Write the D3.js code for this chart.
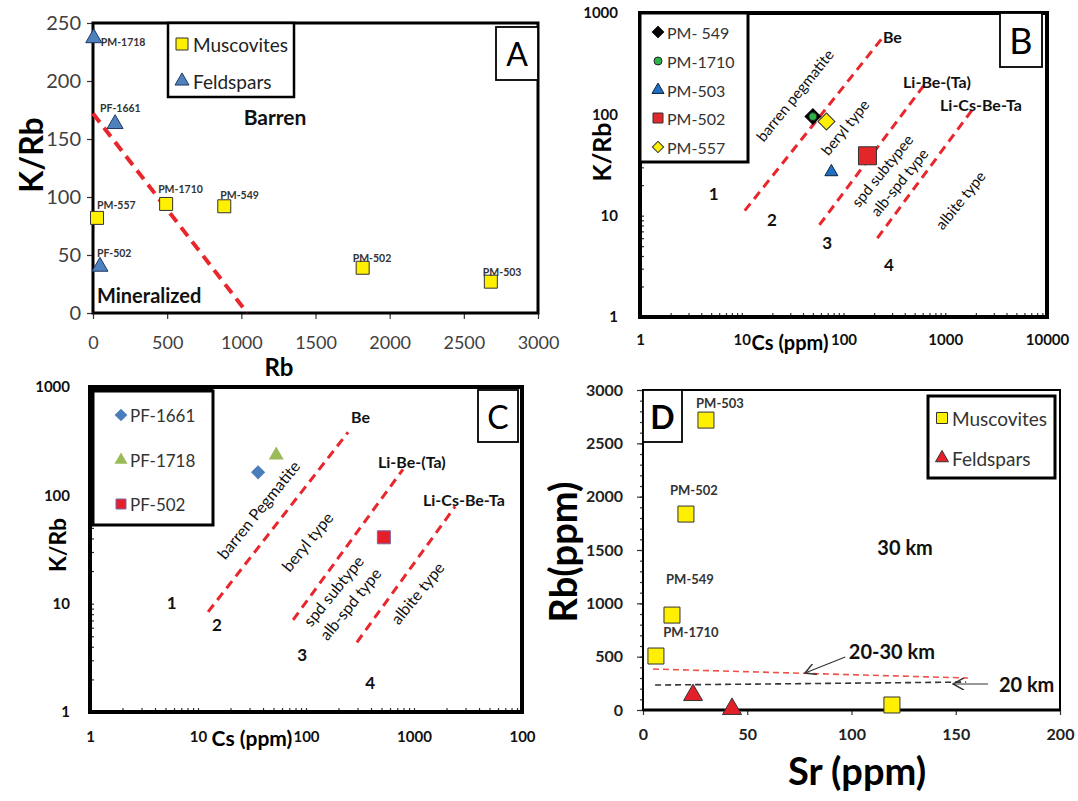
<!DOCTYPE html>
<html><head><meta charset="utf-8">
<script src="https://cdn.jsdelivr.net/npm/d3@7"></script>
<style>body{margin:0;background:#fff}svg{display:block}text{font-family:Lato,"Open Sans",sans-serif}</style>
</head><body><svg id="c" width="1078" height="801"></svg>
<script>
// ---------------- Panel A data ----------------
const aMuscLabels = ["PM-557","PM-1710","PM-549","PM-502","PM-503"];
const aMuscRb     = [27, 493, 885, 1818, 2682];
const aMuscKRb    = [82, 94, 92, 39, 27];
const aFeldLabels = ["PM-1718","PF-1661","PF-502"];
const aFeldRb     = [5, 149, 47];
const aFeldKRb    = [237, 163, 40];
const aLineRb     = [0, 1040];
const aLineKRb    = [172, 0];
const aXTicks     = [0,500,1000,1500,2000,2500,3000];
const aYTicks     = [0,50,100,150,200,250];
const aLegend     = ["Muscovites","Feldspars"];

// ---------------- Panel B data ----------------
const bSamples = ["PM- 549","PM-1710","PM-503","PM-502","PM-557"];
const bCs      = [50, 50, 76, 172, 68];
const bKRb     = [95, 95, 27, 39, 85];
const bLineCsStart  = [10.7, 58, 215];
const bLineKRbStart = [11.2, 8.1, 6.0];
const bLineCsEnd    = [235, 650, 1830];
const bLineKRbEnd   = [550, 207, 110];
const bLineNames    = ["Be","Li-Be-(Ta)","Li-Cs-Be-Ta"];
const bLineNameCs   = [244, 385, 888];
const bLineNameKRb  = [580, 213, 126];
const bZoneNames    = ["barren pegmatite","beryl type","spd subtypee","alb-spd type","albite type"];
const bZoneCs       = [33, 103, 239, 351, 1396];
const bZoneKRb      = [155, 75, 28, 21.5, 14.3];
const bNums         = ["1","2","3","4"];
const bNumCs        = [5.3, 19.8, 69, 280];
const bNumKRb       = [16.7, 9.1, 5.4, 3.3];
const bXTicks = [1,10,100,1000,10000];
const bXLabels = ["1","10","100","1000","10000"];
const bYTicks = [1,10,100,1000];
const bYLabels = ["1","10","100","1000"];

// ---------------- Panel C data ----------------
const cSamples = ["PF-1661","PF-1718","PF-502"];
const cCs      = [36, 53, 526];
const cKRb     = [163, 235, 41];
const cLineCsStart  = [12.4, 76, 296];
const cLineKRbStart = [8.4, 7.1, 4.4];
const cLineCsEnd    = [245, 791, 2407];
const cLineKRbEnd   = [382, 174, 79];
const cLineNames    = ["Be","Li-Be-(Ta)","Li-Cs-Be-Ta"];
const cLineNameCs   = [261, 464, 1211];
const cLineNameKRb  = [539, 206, 92];
const cZoneNames    = ["barren Pegmatite","beryl type","spd subtype","alb-spd type","albite type"];
const cZoneCs       = [36, 102, 178, 255, 1066];
const cZoneKRb      = [74, 37.5, 13.2, 10, 12.6];
const cNums         = ["1","2","3","4"];
const cNumCs        = [5.7, 15, 92, 392];
const cNumKRb       = [10.2, 6.4, 3.4, 1.86];
const cXTicks = [1,10,100,1000,10000];
const cXLabels = ["1","10","100","1000","100"];
const cYTicks = [1,10,100,1000];
const cYLabels = ["1","10","100","1000"];

// ---------------- Panel D data ----------------
const dMuscLabels = ["PM-503","PM-502","PM-549","PM-1710",""];
const dMuscSr     = [30.2, 20.6, 13.9, 6.2, 119.4];
const dMuscRb     = [2718, 1837, 890, 506, 47];
const dFeldSr     = [24, 42.7];
const dFeldRb     = [140, 10];
const dRedLineSr  = [4.8, 155.8];
const dRedLineRb  = [384, 300];
const dBlkLineSr  = [5.8, 155];
const dBlkLineRb  = [234, 262];
const dNotes      = ["30 km","20-30 km","20 km"];
const dNoteSr     = [125.7, 119.4, 184];
const dNoteRb     = [1528, 553, 244];
const dArrowFromSr = [97, 165.5];
const dArrowFromRb = [497, 244];
const dArrowToSr   = [77.7, 148.7];
const dArrowToRb   = [347, 244];
const dXTicks = [0,50,100,150,200];
const dYTicks = [0,500,1000,1500,2000,2500,3000];
const dLegend = ["Muscovites","Feldspars"];

// ================= drawing =================
const svg = d3.select("#c");
const sq = s => d3.symbol().type(d3.symbolSquare).size(s*s)();
const tri = s => d3.symbol().type(d3.symbolTriangle).size(Math.sqrt(3)/4*s*s)();
const circ = s => d3.symbol().type(d3.symbolCircle).size(Math.PI*s*s/4)();
const RED = "#e8262b";

function logTicks(lo, hi){
  const out=[];
  for(let p=Math.log10(lo); p<Math.log10(hi); p++){
    for(let m=1;m<10;m++) out.push(m*Math.pow(10,p));
  }
  out.push(hi);
  return out;
}
function styleAxis(g, size, weight, fill){
  g.select(".domain").remove();
  g.selectAll("text").attr("font-size",size).attr("font-weight",weight).attr("fill",fill).attr("font-family","Lato, 'Open Sans', sans-serif");
  g.selectAll("line").attr("stroke","#333").attr("stroke-width",1.2);
}
function frame(g,x0,y0,x1,y1,w){
  g.append("rect").attr("x",x0).attr("y",y0).attr("width",x1-x0).attr("height",y1-y0)
   .attr("fill","none").attr("stroke","#000").attr("stroke-width",w);
}
function boxLabel(g,x0,y0,x1,y1,txt,size,weight){
  g.append("rect").attr("x",x0).attr("y",y0).attr("width",x1-x0).attr("height",y1-y0)
   .attr("fill","#fff").attr("stroke","#000").attr("stroke-width",1.8);
  g.append("text").attr("x",(x0+x1)/2).attr("y",(y0+y1)/2).attr("text-anchor","middle")
   .attr("dominant-baseline","central").attr("font-size",size).attr("font-weight",weight).text(txt);
}

// ---------- Panel A ----------
{
  const g = svg.append("g");
  const x = d3.scaleLinear().domain([0,3000]).range([93,538]);
  const y = d3.scaleLinear().domain([0,250]).range([313,23]);
  g.append("g").attr("transform",`translate(0,${y(0)})`)
    .call(d3.axisBottom(x).tickValues(aXTicks).tickSize(6).tickPadding(17).tickFormat(d3.format("d")))
    .call(a=>styleAxis(a,18,400,"#404040"));
  g.append("g").attr("transform",`translate(${x(0)},0)`)
    .call(d3.axisLeft(y).tickValues(aYTicks).tickSize(6).tickPadding(6).tickFormat(d3.format("d")))
    .call(a=>styleAxis(a,20,400,"#404040"));
  frame(g, x(0), y(250), x(3000), y(0), 3);
  g.append("line").attr("x1",x(aLineRb[0])).attr("y1",y(aLineKRb[0]))
    .attr("x2",x(aLineRb[1])).attr("y2",y(aLineKRb[1]))
    .attr("stroke",RED).attr("stroke-width",4).attr("stroke-dasharray","11,7");
  g.append("rect").attr("x",168).attr("y",23).attr("width",126).attr("height",74)
    .attr("fill","#fff").attr("stroke","#000").attr("stroke-width",2.5);
  g.append("path").attr("d",sq(12)).attr("transform","translate(182,44)").attr("fill","#ffef00").attr("stroke","#333");
  g.append("path").attr("d",tri(14)).attr("transform","translate(182,81)").attr("fill","#4f81bd").attr("stroke","#1f3864");
  g.append("text").attr("x",193).attr("y",44).attr("dominant-baseline","central").attr("font-size",19).attr("fill","#222").text(aLegend[0]);
  g.append("text").attr("x",193).attr("y",81).attr("dominant-baseline","central").attr("font-size",19).attr("fill","#222").text(aLegend[1]);
  boxLabel(g,496,27,538,80,"A",32,400);
  g.append("text").attr("x",275).attr("y",116).attr("text-anchor","middle").attr("dominant-baseline","central")
    .attr("font-size",21).attr("font-weight",700).attr("fill","#111").text("Barren");
  g.append("text").attr("x",97).attr("y",295).attr("dominant-baseline","central")
    .attr("font-size",20).attr("font-weight",700).attr("fill","#111").text("Mineralized");
  const mOff = [[0,-13],[-8,-15],[-4,-11],[-10,-10],[-8,-10]];
  aMuscRb.forEach((v,i)=>{
    g.append("path").attr("d",sq(13)).attr("transform",`translate(${x(v)},${y(aMuscKRb[i])})`)
      .attr("fill","#ffef00").attr("stroke","#333").attr("stroke-width",1);
    g.append("text").attr("x",x(v)+mOff[i][0]).attr("y",y(aMuscKRb[i])+mOff[i][1]).attr("dominant-baseline","central")
      .attr("font-size",10.5).attr("font-weight",700).attr("fill","#333").text(aMuscLabels[i]);
  });
  const fOff = [[7,4],[-15,-16],[-3,-14]];
  aFeldRb.forEach((v,i)=>{
    g.append("path").attr("d",tri(16)).attr("transform",`translate(${x(v)},${y(aFeldKRb[i])})`)
      .attr("fill","#4f81bd").attr("stroke","#1f3864").attr("stroke-width",1);
    g.append("text").attr("x",x(v)+fOff[i][0]).attr("y",y(aFeldKRb[i])+fOff[i][1]).attr("dominant-baseline","central")
      .attr("font-size",10.5).attr("font-weight",700).attr("fill","#333").text(aFeldLabels[i]);
  });
  g.append("text").attr("transform","translate(30,155) rotate(-90)").attr("text-anchor","middle").attr("dominant-baseline","central")
    .attr("font-size",32).attr("font-weight",700).text("K/Rb");
  g.append("text").attr("x",279).attr("y",366).attr("text-anchor","middle").attr("dominant-baseline","central")
    .attr("font-size",24).attr("font-weight",700).text("Rb");
}

// ---------- log panels B and C ----------
function logPanel(cfg){
  const g = svg.append("g");
  const x = d3.scaleLog().domain([1,10000]).range([cfg.x0,cfg.x1]);
  const y = d3.scaleLog().domain([1,1000]).range([cfg.y1,cfg.y0]);
  const xm = logTicks(1,10000).filter(d=>d>1&&d<10000);
  const ym = logTicks(1,1000).filter(d=>d>1&&d<1000);
  g.append("g").attr("transform",`translate(0,${cfg.y1})`)
    .call(d3.axisBottom(x).tickValues(xm).tickSize(-4).tickFormat(""))
    .call(a=>styleAxis(a,15,700,"#111"));
  g.append("g").attr("transform",`translate(${cfg.x0},0)`)
    .call(d3.axisLeft(y).tickValues(ym).tickSize(-4).tickFormat(""))
    .call(a=>styleAxis(a,15,700,"#111"));
  g.append("g").attr("transform",`translate(0,${cfg.y1})`)
    .call(d3.axisBottom(x).tickValues(cfg.xTicks).tickSize(0).tickPadding(cfg.xPad).tickFormat((d,i)=>cfg.xLabels[i]))
    .call(a=>styleAxis(a,15,700,"#111"));
  g.append("g").attr("transform",`translate(${cfg.x0},0)`)
    .call(d3.axisLeft(y).tickValues(cfg.yTicks).tickSize(0).tickPadding(cfg.yPad).tickFormat((d,i)=>cfg.yLabels[i]))
    .call(a=>styleAxis(a,15,700,"#111"));
  frame(g,cfg.x0,cfg.y0,cfg.x1,cfg.y1,4);
  cfg.ls.forEach((v,i)=>{
    g.append("line").attr("x1",x(v)).attr("y1",y(cfg.lks[i])).attr("x2",x(cfg.le[i])).attr("y2",y(cfg.lke[i]))
      .attr("stroke",RED).attr("stroke-width",3).attr("stroke-dasharray","9,6");
    g.append("text").attr("x",x(cfg.nCs[i])).attr("y",y(cfg.nK[i])).attr("dominant-baseline","central")
      .attr("font-size",16).attr("font-weight",700).attr("fill","#111").text(cfg.names[i]);
  });
  cfg.zones.forEach((t,i)=>{
    g.append("text").attr("transform",`translate(${x(cfg.zCs[i])},${y(cfg.zK[i])}) rotate(-51)`)
      .attr("text-anchor","middle").attr("dominant-baseline","central")
      .attr("font-size",cfg.zSize).attr("fill","#111").text(t);
  });
  cfg.nums.forEach((t,i)=>{
    g.append("text").attr("x",x(cfg.numCs[i])).attr("y",y(cfg.numK[i])).attr("text-anchor","middle").attr("dominant-baseline","central")
      .attr("font-size",17).attr("font-weight",700).attr("fill","#111").text(t);
  });
  g.append("text").attr("transform",`translate(${cfg.ytX},${cfg.ytY}) rotate(-90)`).attr("text-anchor","middle").attr("dominant-baseline","central")
    .attr("font-size",cfg.ytSize).attr("font-weight",700).text("K/Rb");
  g.append("text").attr("x",cfg.xtX).attr("y",cfg.xtY).attr("text-anchor","middle").attr("dominant-baseline","central")
    .attr("font-size",cfg.xtSize).attr("font-weight",700).text("Cs (ppm)");
  return {g,x,y};
}

// ---------- Panel B ----------
{
  const {g,x,y} = logPanel({x0:640,x1:1047,y0:13,y1:317,xTicks:bXTicks,xLabels:bXLabels,yTicks:bYTicks,yLabels:bYLabels,
    xPad:17,yPad:22,ls:bLineCsStart,lks:bLineKRbStart,le:bLineCsEnd,lke:bLineKRbEnd,names:bLineNames,nCs:bLineNameCs,nK:bLineNameKRb,
    zones:bZoneNames,zCs:bZoneCs,zK:bZoneKRb,zSize:15,nums:bNums,numCs:bNumCs,numK:bNumKRb,
    ytX:601,ytY:152,ytSize:25,xtX:790,xtY:342,xtSize:20});
  g.append("rect").attr("x",640).attr("y",13).attr("width",108).attr("height",149).attr("fill","#fff").attr("stroke","#000").attr("stroke-width",3);
  const ly=[32,61,90,118,147];
  const legSym=[
    p=>p.attr("d",sq(8)).attr("transform",`translate(658,${ly[0]}) rotate(45)`).attr("fill","#000").attr("stroke","#000"),
    p=>p.attr("d",circ(8)).attr("transform",`translate(658,${ly[1]})`).attr("fill","#2db34a").attr("stroke","#222"),
    p=>p.attr("d",tri(12)).attr("transform",`translate(658,${ly[2]})`).attr("fill","#1f6fc5").attr("stroke","#123"),
    p=>p.attr("d",sq(10)).attr("transform",`translate(658,${ly[3]})`).attr("fill","#e3262a").attr("stroke","#333"),
    p=>p.attr("d",sq(8)).attr("transform",`translate(658,${ly[4]}) rotate(45)`).attr("fill","#ffef00").attr("stroke","#333")];
  bSamples.forEach((s,i)=>{
    legSym[i](g.append("path"));
    g.append("text").attr("x",667).attr("y",ly[i]).attr("dominant-baseline","central").attr("font-size",16).attr("fill","#333").text(s);
  });
  boxLabel(g,1000,13,1042,67,"B",36,400);
  const pt = (i)=>`translate(${x(bCs[i])},${y(bKRb[i])})`;
  g.append("path").attr("d",sq(11)).attr("transform",pt(0)+" rotate(45)").attr("fill","#000").attr("stroke","#000");
  g.append("path").attr("d",circ(8)).attr("transform",pt(1)).attr("fill","#2db34a").attr("stroke","#222");
  g.append("path").attr("d",tri(13)).attr("transform",pt(2)).attr("fill","#1f6fc5").attr("stroke","#123");
  g.append("path").attr("d",sq(18)).attr("transform",pt(3)).attr("fill","#e3262a").attr("stroke","#333");
  g.append("path").attr("d",sq(12)).attr("transform",pt(4)+" rotate(45)").attr("fill","#ffef00").attr("stroke","#333");
}

// ---------- Panel C ----------
{
  const {g,x,y} = logPanel({x0:90,x1:522,y0:387,y1:712,xTicks:cXTicks,xLabels:cXLabels,yTicks:cYTicks,yLabels:cYLabels,
    xPad:19,yPad:20,ls:cLineCsStart,lks:cLineKRbStart,le:cLineCsEnd,lke:cLineKRbEnd,names:cLineNames,nCs:cLineNameCs,nK:cLineNameKRb,
    zones:cZoneNames,zCs:cZoneCs,zK:cZoneKRb,zSize:16,nums:cNums,numCs:cNumCs,numK:cNumKRb,
    ytX:57,ytY:545,ytSize:23,xtX:252,xtY:737,xtSize:21});
  g.append("rect").attr("x",93).attr("y",391).attr("width",120).attr("height",134).attr("fill","#fff").attr("stroke","#000").attr("stroke-width",3);
  g.append("line").attr("x1",90).attr("x2",213).attr("y1",389).attr("y2",389).attr("stroke","#000").attr("stroke-width",5);
  const ly=[415,460,504];
  const leg=[
    p=>p.attr("d",sq(9)).attr("transform",`translate(121,${ly[0]}) rotate(45)`).attr("fill","#4a7ebb"),
    p=>p.attr("d",tri(13)).attr("transform",`translate(121,${ly[1]})`).attr("fill","#9bbb59"),
    p=>p.attr("d",sq(10)).attr("transform",`translate(121,${ly[2]})`).attr("fill","#e3202a").attr("stroke","#8064a2")];
  cSamples.forEach((s,i)=>{
    leg[i](g.append("path"));
    g.append("text").attr("x",130).attr("y",ly[i]).attr("dominant-baseline","central").attr("font-size",17).attr("fill","#333").text(s);
  });
  boxLabel(g,478,390,518,442,"C",32,400);
  g.append("path").attr("d",sq(10)).attr("transform",`translate(${x(cCs[0])},${y(cKRb[0])}) rotate(45)`).attr("fill","#4a7ebb");
  g.append("path").attr("d",tri(15)).attr("transform",`translate(${x(cCs[1])},${y(cKRb[1])})`).attr("fill","#9bbb59");
  g.append("path").attr("d",sq(13)).attr("transform",`translate(${x(cCs[2])},${y(cKRb[2])})`).attr("fill","#e3202a").attr("stroke","#8064a2");
}

// ---------- Panel D ----------
{
  const g = svg.append("g");
  const x = d3.scaleLinear().domain([0,200]).range([643,1060]);
  const y = d3.scaleLinear().domain([0,3000]).range([710,390]);
  g.append("g").attr("transform",`translate(0,${y(0)})`)
    .call(d3.axisBottom(x).tickValues(dXTicks).tickSize(5).tickPadding(14).tickFormat(d3.format("d")))
    .call(a=>styleAxis(a,16,700,"#222"));
  g.append("g").attr("transform",`translate(${x(0)},0)`)
    .call(d3.axisLeft(y).tickValues(d3.range(0,3001,100)).tickSize(3).tickFormat(""))
    .call(a=>styleAxis(a,16,700,"#222"));
  g.append("g").attr("transform",`translate(${x(0)},0)`)
    .call(d3.axisLeft(y).tickValues(dYTicks).tickSize(6).tickPadding(14).tickFormat(d3.format("d")))
    .call(a=>styleAxis(a,16,700,"#222"));
  frame(g,x(0),y(3000),x(200),y(0),2);
  g.append("line").attr("x1",x(0)).attr("x2",x(200)).attr("y1",y(0)).attr("y2",y(0)).attr("stroke","#000").attr("stroke-width",3);
  g.append("line").attr("x1",x(dRedLineSr[0])).attr("y1",y(dRedLineRb[0])).attr("x2",x(dRedLineSr[1])).attr("y2",y(dRedLineRb[1]))
    .attr("stroke","#f0504a").attr("stroke-width",1.6).attr("stroke-dasharray","6,4");
  g.append("line").attr("x1",x(dBlkLineSr[0])).attr("y1",y(dBlkLineRb[0])).attr("x2",x(dBlkLineSr[1])).attr("y2",y(dBlkLineRb[1]))
    .attr("stroke","#333").attr("stroke-width",1.6).attr("stroke-dasharray","6,4");
  svg.append("defs").append("marker").attr("id","ah").attr("viewBox","0 0 10 10").attr("refX",9).attr("refY",5)
    .attr("markerWidth",12).attr("markerHeight",12).attr("markerUnits","userSpaceOnUse").attr("orient","auto")
    .append("path").attr("d","M0,0 L9,5 L0,10").attr("fill","none").attr("stroke","#333").attr("stroke-width",1.2);
  dArrowFromSr.forEach((v,i)=>{
    g.append("line").attr("x1",x(v)).attr("y1",y(dArrowFromRb[i])).attr("x2",x(dArrowToSr[i])).attr("y2",y(dArrowToRb[i]))
      .attr("stroke","#333").attr("stroke-width",1.1).attr("marker-end","url(#ah)");
  });
  dNotes.forEach((t,i)=>{
    g.append("text").attr("x",x(dNoteSr[i])).attr("y",y(dNoteRb[i])).attr("text-anchor","middle").attr("dominant-baseline","central")
      .attr("font-size",20).attr("font-weight",700).attr("fill","#111").text(t);
  });
  g.selectAll(null).data(dFeldSr).join("path").attr("d",tri(19))
    .attr("transform",(d,i)=>`translate(${x(d)},${y(dFeldRb[i])})`).attr("fill","#e3202a").attr("stroke","#333");
  const off=[[14,-17],[8,-24],[18,-36],[35,-24],[0,0]];
  dMuscSr.forEach((v,i)=>{
    g.append("path").attr("d",sq(16)).attr("transform",`translate(${x(v)},${y(dMuscRb[i])})`).attr("fill","#ffef00").attr("stroke","#333");
    if(dMuscLabels[i]) g.append("text").attr("x",x(v)+off[i][0]).attr("y",y(dMuscRb[i])+off[i][1]).attr("text-anchor","middle")
      .attr("dominant-baseline","central").attr("font-size",13).attr("font-weight",700).attr("fill","#333").text(dMuscLabels[i]);
  });
  g.append("rect").attr("x",928).attr("y",396).attr("width",127).attr("height",82).attr("fill","#fff").attr("stroke","#000").attr("stroke-width",3);
  g.append("path").attr("d",sq(11)).attr("transform","translate(942,418)").attr("fill","#ffef00").attr("stroke","#333");
  g.append("path").attr("d",tri(13)).attr("transform","translate(942,458)").attr("fill","#e3202a").attr("stroke","#333");
  g.append("text").attr("x",952).attr("y",418).attr("dominant-baseline","central").attr("font-size",19).attr("fill","#333").text(dLegend[0]);
  g.append("text").attr("x",952).attr("y",458).attr("dominant-baseline","central").attr("font-size",19).attr("fill","#333").text(dLegend[1]);
  boxLabel(g,643,390,682,442,"D",32,700);
  g.append("text").attr("transform","translate(562,552) rotate(-90)").attr("text-anchor","middle").attr("dominant-baseline","central")
    .attr("font-size",38).attr("font-weight",700).text("Rb(ppm)");
  g.append("text").attr("x",857).attr("y",770).attr("text-anchor","middle").attr("dominant-baseline","central")
    .attr("font-size",38).attr("font-weight",700).text("Sr (ppm)");
}
</script></body></html>
